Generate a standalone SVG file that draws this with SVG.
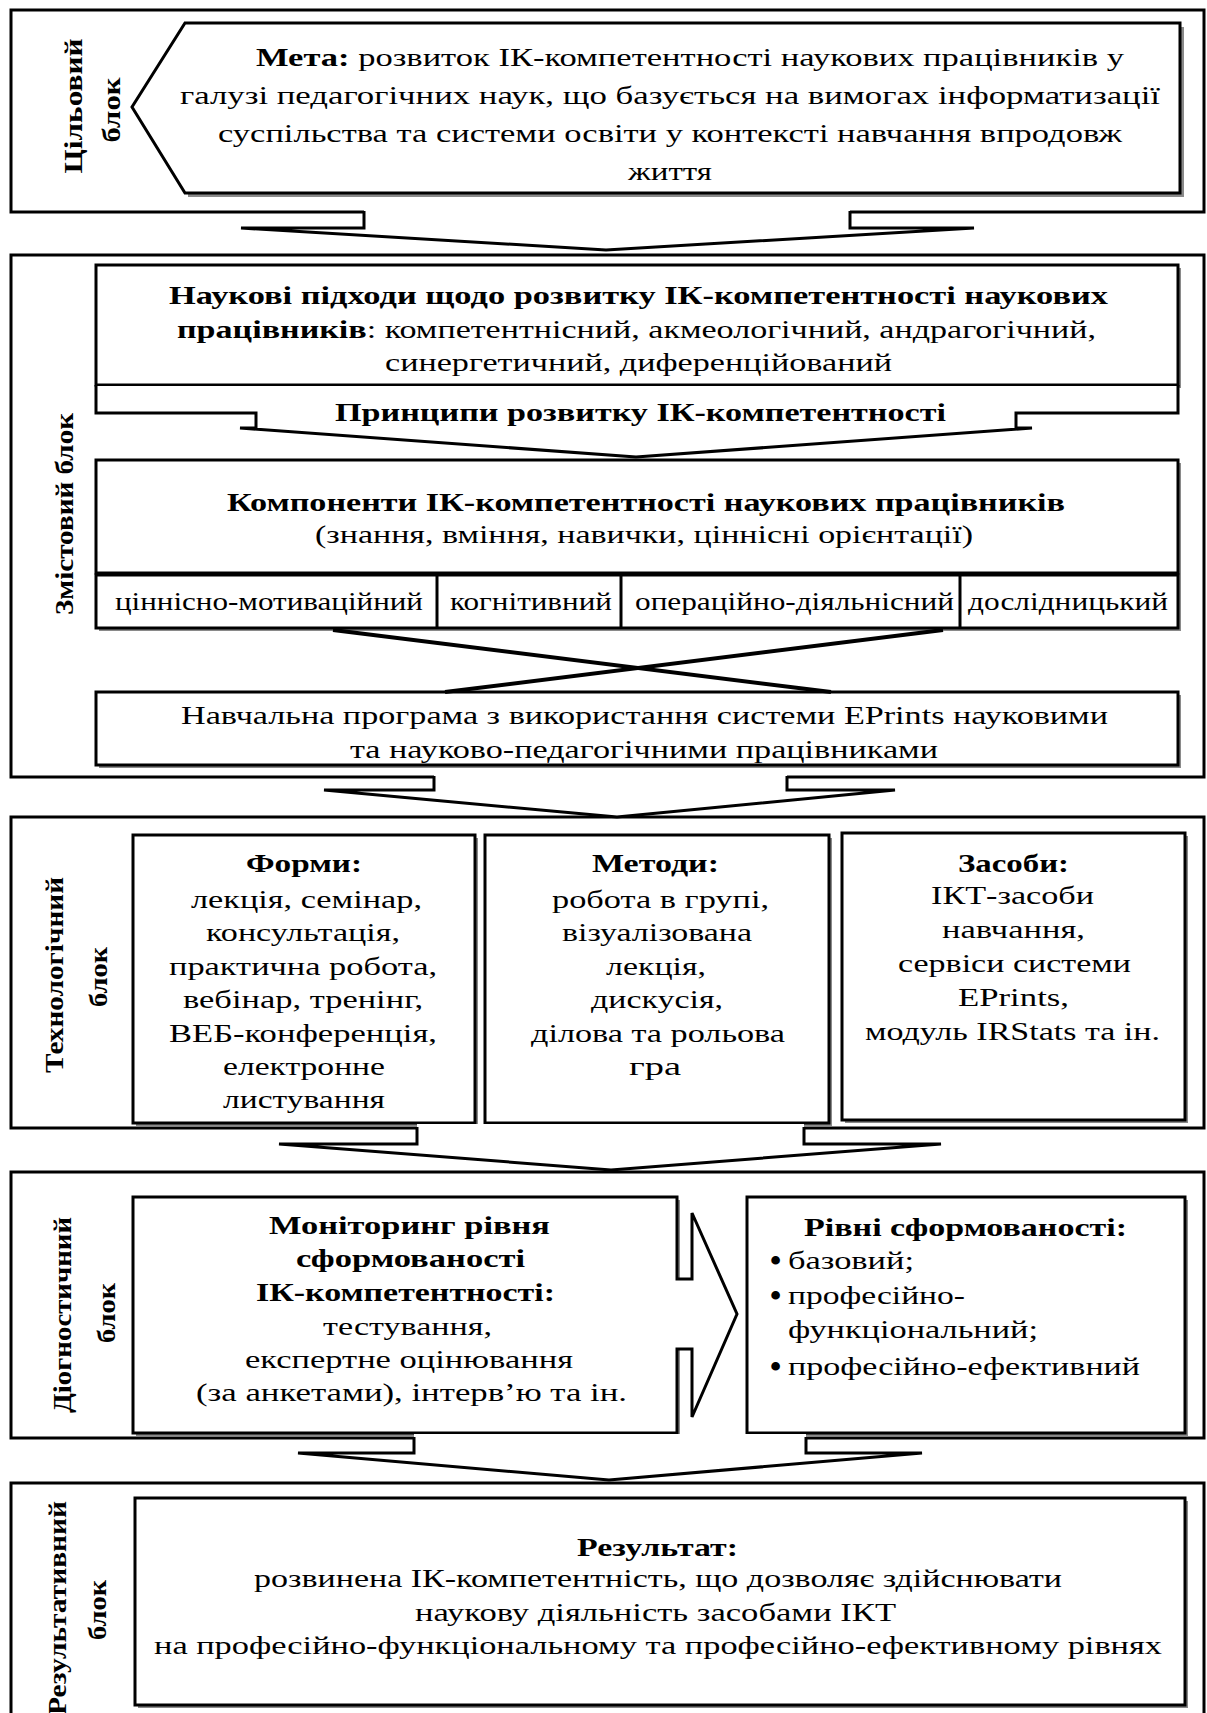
<svg xmlns="http://www.w3.org/2000/svg" width="1207" height="1713" viewBox="0 0 1207 1713">
<defs>
<style>
.t{font-family:"Liberation Serif","Times New Roman",serif;font-size:26px;fill:#000}
.b{font-weight:bold}
.m{text-anchor:middle}
.bu{font-family:"Liberation Serif","Times New Roman",serif;font-size:32px;font-weight:bold;fill:#000}
.outer{fill:#fff;stroke:#000;stroke-width:3}
.box{fill:#fff;stroke:#000;stroke-width:3}
.sh{fill:#8a8a8a}
.ln{fill:none;stroke:#000;stroke-width:3;stroke-linejoin:miter}
.wf{fill:#fff;stroke:none}
.x{stroke:#000;stroke-width:4}
</style>
</defs>
<rect width="1207" height="1713" fill="#fff"/>

<!-- Block 1 -->
<g id="block-goal">
<rect class="outer" x="11" y="10" width="1193" height="202"/>
<path class="sh" d="M189,193 H1184 V27 H1180 V193 Z"/>
<path class="sh" d="M188,193 H1184 V197 H188 Z"/>
<path class="box" d="M185,23 H1180 V193 H185 L132,107 Z"/>
<text class="t b m" transform="translate(82,106) rotate(-90)" textLength="135" lengthAdjust="spacingAndGlyphs">Цільовий</text>
<text class="t b m" transform="translate(120,110) rotate(-90)" textLength="65" lengthAdjust="spacingAndGlyphs">блок</text>
<text class="t" x="256" y="66" textLength="868" lengthAdjust="spacingAndGlyphs"><tspan class="b">Мета:</tspan> розвиток ІК-компетентності наукових працівників у</text>
<text class="t" x="180" y="104" textLength="980" lengthAdjust="spacingAndGlyphs">галузі педагогічних наук, що базується на вимогах інформатизації</text>
<text class="t" x="218" y="142" textLength="904" lengthAdjust="spacingAndGlyphs">суспільства та системи освіти у контексті навчання впродовж</text>
<text class="t" x="628" y="180" textLength="84" lengthAdjust="spacingAndGlyphs">життя</text>
</g>

<!-- Block 2 -->
<g id="block-content">
<rect class="outer" x="11" y="255" width="1193" height="522"/>
<text class="t b m" transform="translate(73,514) rotate(-90)" textLength="202" lengthAdjust="spacingAndGlyphs">Змістовий блок</text>
</g>
<g id="approaches">
<rect class="sh" x="99" y="268" width="1082" height="120"/>
<rect class="box" x="96" y="265" width="1082" height="120"/>
<text class="t b" x="169" y="304" textLength="939" lengthAdjust="spacingAndGlyphs">Наукові підходи щодо розвитку ІК-компетентності наукових</text>
<text class="t" x="177" y="338" textLength="919" lengthAdjust="spacingAndGlyphs"><tspan class="b">працівників</tspan>: компетентнісний, акмеологічний, андрагогічний,</text>
<text class="t" x="385" y="371" textLength="507" lengthAdjust="spacingAndGlyphs">синергетичний, диференційований</text>
</g>
<g id="principles">
<path class="wf" d="M96,386 V413 H256 V428 H240 L636,457 L1032,428 H1016 V413 H1178 V386 Z"/>
<path class="ln" d="M96,385 V413 H256 V428 H240 L636,457 L1032,428 H1016 V413 H1178 V385"/>
<text class="t b" x="335" y="421" textLength="611" lengthAdjust="spacingAndGlyphs">Принципи розвитку ІК-компетентності</text>
</g>
<g id="components">
<rect class="sh" x="99" y="463" width="1082" height="168"/>
<rect class="box" x="96" y="460" width="1082" height="113"/>
<rect class="box" x="96" y="575" width="1082" height="53"/>
<line class="ln" x1="437" y1="575" x2="437" y2="628"/>
<line class="ln" x1="621" y1="575" x2="621" y2="628"/>
<line class="ln" x1="960" y1="575" x2="960" y2="628"/>
<text class="t b" x="227" y="511" textLength="838" lengthAdjust="spacingAndGlyphs">Компоненти ІК-компетентності наукових працівників</text>
<text class="t" x="315" y="543" textLength="658" lengthAdjust="spacingAndGlyphs">(знання, вміння, навички, ціннісні орієнтації)</text>
<text class="t" x="115" y="610" textLength="308" lengthAdjust="spacingAndGlyphs">ціннісно-мотиваційний</text>
<text class="t" x="450" y="610" textLength="162" lengthAdjust="spacingAndGlyphs">когнітивний</text>
<text class="t" x="635" y="610" textLength="319" lengthAdjust="spacingAndGlyphs">операційно-діяльнісний</text>
<text class="t" x="968" y="610" textLength="200" lengthAdjust="spacingAndGlyphs">дослідницький</text>
</g>
<g id="program">
<rect class="sh" x="99" y="695" width="1082" height="73"/>
<rect class="box" x="96" y="692" width="1082" height="73"/>
<text class="t" x="181" y="724" textLength="927" lengthAdjust="spacingAndGlyphs">Навчальна програма з використання системи EPrints науковими</text>
<text class="t" x="350" y="758" textLength="588" lengthAdjust="spacingAndGlyphs">та науково-педагогічними працівниками</text>
</g>

<!-- Block 3 -->
<g id="block-tech">
<rect class="outer" x="11" y="817" width="1193" height="311"/>
<text class="t b m" transform="translate(63,975) rotate(-90)" textLength="196" lengthAdjust="spacingAndGlyphs">Технологічний</text>
<text class="t b m" transform="translate(107,977) rotate(-90)" textLength="60" lengthAdjust="spacingAndGlyphs">блок</text>
</g>
<g id="forms">
<rect class="sh" x="136" y="838" width="342" height="288"/>
<rect class="box" x="133" y="835" width="342" height="288"/>
<text class="t b" x="246" y="872" textLength="116" lengthAdjust="spacingAndGlyphs">Форми:</text>
<text class="t" x="191" y="908" textLength="231" lengthAdjust="spacingAndGlyphs">лекція, семінар,</text>
<text class="t" x="206" y="941" textLength="194" lengthAdjust="spacingAndGlyphs">консультація,</text>
<text class="t" x="169" y="975" textLength="268" lengthAdjust="spacingAndGlyphs">практична робота,</text>
<text class="t" x="183" y="1008" textLength="240" lengthAdjust="spacingAndGlyphs">вебінар, тренінг,</text>
<text class="t" x="169" y="1042" textLength="268" lengthAdjust="spacingAndGlyphs">ВЕБ-конференція,</text>
<text class="t" x="223" y="1075" textLength="162" lengthAdjust="spacingAndGlyphs">електронне</text>
<text class="t" x="223" y="1108" textLength="162" lengthAdjust="spacingAndGlyphs">листування</text>
</g>
<g id="methods">
<rect class="sh" x="488" y="838" width="344" height="288"/>
<rect class="box" x="485" y="835" width="344" height="288"/>
<text class="t b" x="592" y="872" textLength="127" lengthAdjust="spacingAndGlyphs">Методи:</text>
<text class="t" x="552" y="908" textLength="217" lengthAdjust="spacingAndGlyphs">робота в групі,</text>
<text class="t" x="562" y="941" textLength="190" lengthAdjust="spacingAndGlyphs">візуалізована</text>
<text class="t" x="606" y="975" textLength="100" lengthAdjust="spacingAndGlyphs">лекція,</text>
<text class="t" x="591" y="1008" textLength="132" lengthAdjust="spacingAndGlyphs">дискусія,</text>
<text class="t" x="531" y="1042" textLength="254" lengthAdjust="spacingAndGlyphs">ділова та рольова</text>
<text class="t" x="629" y="1075" textLength="52" lengthAdjust="spacingAndGlyphs">гра</text>
</g>
<g id="means">
<rect class="sh" x="845" y="836" width="343" height="287"/>
<rect class="box" x="842" y="833" width="343" height="287"/>
<text class="t b" x="958" y="872" textLength="111" lengthAdjust="spacingAndGlyphs">Засоби:</text>
<text class="t" x="931" y="904" textLength="163" lengthAdjust="spacingAndGlyphs">ІКТ-засоби</text>
<text class="t" x="942" y="938" textLength="143" lengthAdjust="spacingAndGlyphs">навчання,</text>
<text class="t" x="898" y="972" textLength="233" lengthAdjust="spacingAndGlyphs">сервіси системи</text>
<text class="t" x="958" y="1006" textLength="111" lengthAdjust="spacingAndGlyphs">EPrints,</text>
<text class="t" x="865" y="1040" textLength="295" lengthAdjust="spacingAndGlyphs">модуль IRStats та ін.</text>
</g>

<!-- Block 4 -->
<g id="block-diag">
<rect class="outer" x="11" y="1172" width="1193" height="266"/>
<text class="t b m" transform="translate(71,1315) rotate(-90)" textLength="196" lengthAdjust="spacingAndGlyphs">Діогностичний</text>
<text class="t b m" transform="translate(115,1313) rotate(-90)" textLength="60" lengthAdjust="spacingAndGlyphs">блок</text>
</g>
<g id="monitoring">
<path class="sh" d="M136,1200 H680 V1436 H136 Z"/>
<path class="box" d="M133,1197 H677 V1279 H692 V1213 L737,1314 L692,1417 V1349 H677 V1433 H133 Z"/>
<text class="t b" x="269" y="1234" textLength="281" lengthAdjust="spacingAndGlyphs">Моніторинг рівня</text>
<text class="t b" x="296" y="1267" textLength="229" lengthAdjust="spacingAndGlyphs">сформованості</text>
<text class="t b" x="256" y="1301" textLength="299" lengthAdjust="spacingAndGlyphs">ІК-компетентності:</text>
<text class="t" x="323" y="1335" textLength="169" lengthAdjust="spacingAndGlyphs">тестування,</text>
<text class="t" x="245" y="1368" textLength="328" lengthAdjust="spacingAndGlyphs">експертне оцінювання</text>
<text class="t" x="196" y="1401" textLength="431" lengthAdjust="spacingAndGlyphs">(за анкетами), інтерв’ю та ін.</text>
</g>
<g id="levels">
<rect class="sh" x="750" y="1200" width="438" height="236"/>
<rect class="box" x="747" y="1197" width="438" height="236"/>
<text class="t b" x="804" y="1236" textLength="323" lengthAdjust="spacingAndGlyphs">Рівні сформованості:</text>
<text class="bu" x="770" y="1271">•</text>
<text class="t" x="788" y="1269" textLength="126" lengthAdjust="spacingAndGlyphs">базовий;</text>
<text class="bu" x="770" y="1306">•</text>
<text class="t" x="788" y="1304" textLength="177" lengthAdjust="spacingAndGlyphs">професійно-</text>
<text class="t" x="788" y="1338" textLength="250" lengthAdjust="spacingAndGlyphs">функціональний;</text>
<text class="bu" x="770" y="1377">•</text>
<text class="t" x="788" y="1375" textLength="352" lengthAdjust="spacingAndGlyphs">професійно-ефективний</text>
</g>

<!-- Block 5 -->
<g id="block-result">
<rect class="outer" x="11" y="1483" width="1193" height="250"/>
<text class="t b m" transform="translate(66,1608) rotate(-90)" textLength="214" lengthAdjust="spacingAndGlyphs">Результативний</text>
<text class="t b m" transform="translate(106,1610) rotate(-90)" textLength="60" lengthAdjust="spacingAndGlyphs">блок</text>
</g>
<g id="result">
<rect class="sh" x="138" y="1501" width="1050" height="207"/>
<rect class="box" x="135" y="1498" width="1050" height="207"/>
<text class="t b" x="577" y="1556" textLength="161" lengthAdjust="spacingAndGlyphs">Результат:</text>
<text class="t" x="254" y="1587" textLength="808" lengthAdjust="spacingAndGlyphs">розвинена ІК-компетентність, що дозволяє здійснювати</text>
<text class="t" x="415" y="1621" textLength="481" lengthAdjust="spacingAndGlyphs">наукову діяльність засобами ІКТ</text>
<text class="t" x="154" y="1654" textLength="1008" lengthAdjust="spacingAndGlyphs">на професійно-функціональному та професійно-ефективному рівнях</text>
</g>

<!-- Connectors -->
<g id="connectors">
<path class="wf" d="M364,208 V228 H241 L606,250 L974,228 H850 V208 Z"/>
<path class="ln" d="M364,211 V228 H241 L606,250 L974,228 H850 V211"/>
<path class="wf" d="M434,773 V790 H324 L617,817 L895,790 H787 V773 Z"/>
<path class="ln" d="M434,776 V790 H324 L617,817 L895,790 H787 V776"/>
<path class="wf" d="M417,1124 V1144 H279 L611,1170 L941,1144 H804 V1124 Z"/>
<path class="ln" d="M417,1127 V1144 H279 L611,1170 L941,1144 H804 V1127"/>
<path class="wf" d="M414,1434 V1453 H298 L609,1480 L922,1453 H806 V1434 Z"/>
<path class="ln" d="M414,1437 V1453 H298 L609,1480 L922,1453 H806 V1437"/>
<line class="x" x1="333" y1="630" x2="831" y2="692"/>
<line class="x" x1="943" y1="630" x2="445" y2="692"/>
</g>
</svg>
